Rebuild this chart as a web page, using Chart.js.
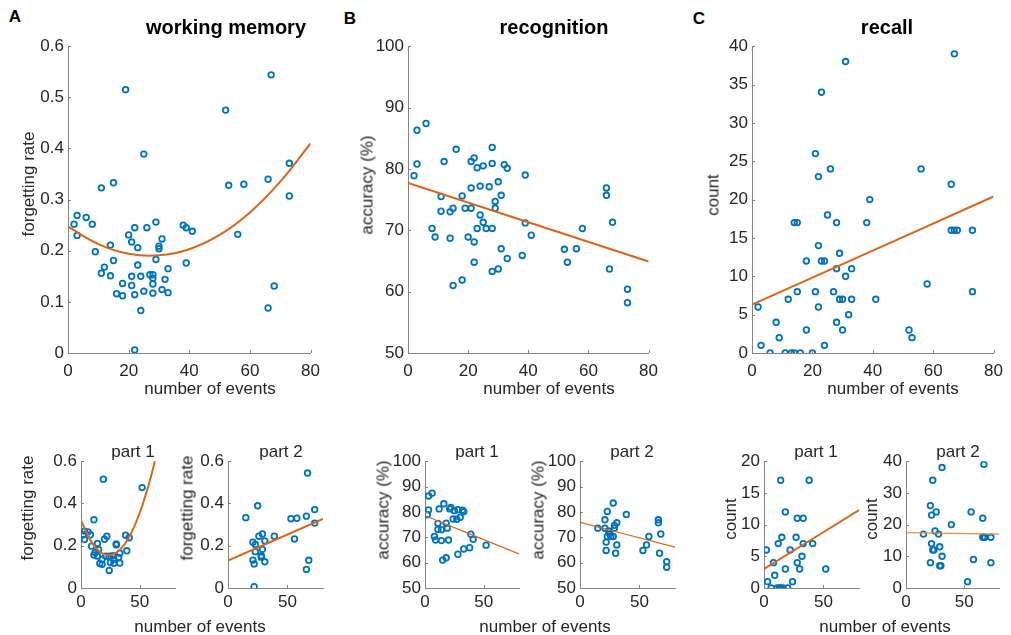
<!DOCTYPE html>
<html><head><meta charset="utf-8">
<script src="https://cdn.jsdelivr.net/npm/chart.js@4.4.1/dist/chart.umd.min.js"></script>
<style>
html,body{margin:0;padding:0;background:#fff;overflow:hidden;}
body{width:1011px;height:635px;position:relative;font-family:"Liberation Sans",Arial,Helvetica,sans-serif;color:#262626;}
.t{position:absolute;white-space:nowrap;transform:translate(-50%,-50%);line-height:1;}
.r{transform:translate(-50%,-50%) rotate(-90deg);}
canvas{position:absolute;display:block;}
</style></head><body>
<script>
// ---------- data ----------
// working memory
const wmEvents = [2,3,3,6,8,9,11,11,12,14,14,15,15,16,18,18,19,20,21,21,21,22,22,22,23,23,24,24,25,25,26,27,28,28,28,28,29,29,30,30,31,31,32,33,33,38,39,39,41,52,53,56,58,66,66,67,68,73,73];
const wmRate = [0.252,0.269,0.230,0.265,0.252,0.198,0.323,0.156,0.168,0.211,0.151,0.333,0.181,0.116,0.136,0.112,0.515,0.231,0.217,0.150,0.132,0.245,0.114,0.006,0.206,0.172,0.150,0.083,0.389,0.121,0.245,0.153,0.153,0.146,0.135,0.117,0.256,0.183,0.209,0.204,0.223,0.124,0.144,0.165,0.118,0.250,0.245,0.176,0.238,0.475,0.328,0.232,0.330,0.340,0.088,0.544,0.131,0.371,0.307];
const wmPart = [1,1,1,1,1,1,1,1,1,1,1,2,1,1,1,1,1,1,2,1,2,1,2,2,2,2,1,1,2,1,2,1,2,2,1,1,2,2,1,1,2,2,1,1,1,1,2,1,1,1,2,2,2,2,2,2,2,2,2];
// recognition
const accEvents = [2,3,3,6,8,9,11,11,12,14,14,15,15,16,18,18,19,20,21,21,21,22,22,22,23,23,24,24,25,25,26,27,28,28,28,28,29,29,30,30,31,31,32,33,33,38,39,39,41,52,53,56,58,66,66,67,68,73,73];
const accValue = [78.9,86.3,80.8,87.4,70.3,68.9,75.5,73.1,81.2,73.0,68.7,73.6,61.0,83.2,75.6,61.9,73.6,68.9,81.2,76.9,73.6,81.8,68.1,64.8,80.2,70.3,77.2,72.5,80.5,71.3,70.3,77.1,83.5,80.9,70.3,63.3,74.7,73.6,77.9,63.7,75.7,67.0,80.7,80.1,65.4,65.9,79.0,71.2,69.2,66.9,64.8,67.0,70.3,76.9,75.7,63.7,71.3,60.4,58.2];
const accPart = [1,1,1,1,1,1,1,1,1,1,1,2,1,1,1,1,1,1,1,2,2,1,2,2,2,2,1,2,1,2,2,1,2,1,2,1,2,2,1,2,2,2,1,1,1,1,2,1,1,1,2,2,2,2,2,2,2,2,2];
// recall
const countEvents = [2,3,6,8,9,11,12,13,14,14,15,15,16,18,18,20,21,21,22,22,22,23,23,24,24,25,26,27,28,28,28,29,29,30,30,31,31,32,33,33,38,39,41,52,53,56,58,66,66,67,67,68,73,73];
const countValue = [6,1,0,4,2,0,7,0,0,17,17,8,0,12,3,0,26,8,23,14,6,34,12,12,1,18,24,8,17,11,4,13,7,7,3,38,10,5,11,7,17,20,7,3,2,24,9,22,16,39,16,16,16,8];
const countPart = [1,1,1,1,1,1,1,1,1,1,2,1,1,1,1,1,2,2,2,2,1,2,2,2,1,2,2,1,2,1,1,2,2,2,1,2,2,1,1,1,1,2,1,1,2,2,2,2,2,2,2,2,2,2];

// fitted curves
const wmFitX = [0,10,20,30,40,50,60,70,80];
const wmFitY = [0.247,0.213,0.194,0.191,0.203,0.231,0.275,0.335,0.410];
const accFitX = [0,80];
const accFitY = [77.7,64.9];
const countFitX = [0,80];
const countFitY = [6.3,20.4];
const wmP1FitX = [0,10,20,30,40,50,60,70];
const wmP1FitY = [0.318,0.209,0.159,0.167,0.232,0.356,0.537,0.776];
const wmP2FitX = [0,80];
const wmP2FitY = [0.130,0.327];
const accP1FitX = [0,80];
const accP1FitY = [78.5,63.4];
const accP2FitX = [0,80];
const accP2FitY = [75.9,66.1];
const countP1FitX = [0,80];
const countP1FitY = [3.0,12.3];
const countP2FitX = [0,80];
const countP2FitY = [17.5,17.0];

// tick values
const xTicksMain = [0,20,40,60,80];
const xTicksPart = [0,50];
const wmTicks = [0,0.1,0.2,0.3,0.4,0.5,0.6];
const accTicks = [50,60,70,80,90,100];
const countTicks = [0,5,10,15,20,25,30,35,40];
const wmPartTicks = [0,0.2,0.4,0.6];
const accPartTicks = [50,60,70,80,90,100];
const countP1Ticks = [0,5,10,15,20];
const countP2Ticks = [0,10,20,30,40];

// ---------- drawing ----------
const FONT = '"Liberation Sans", Arial, Helvetica, sans-serif';
const BLUE = '#0072BD', ORANGE = '#D8661E', AXIS = '#858585', TXT = '#262626';
const AX = 50, PT = 14, PR = 12, PB = 30;

function pairs(xs, ys, parts, which) {
  const out = [];
  for (let i = 0; i < xs.length; i++) {
    if (which === undefined || parts[i] === which) out.push({x: xs[i], y: ys[i]});
  }
  return out;
}

const inwardTicks = {
  id: 'inwardTicks',
  afterDraw(chart) {
    const ctx = chart.ctx, xs = chart.scales.x, ys = chart.scales.y, a = chart.chartArea;
    ctx.save();
    ctx.strokeStyle = AXIS; ctx.lineWidth = 1;
    ctx.beginPath();
    xs.ticks.forEach(t => { const p = Math.round(xs.getPixelForValue(t.value)) + 0.5; ctx.moveTo(p, a.bottom); ctx.lineTo(p, a.bottom - 3); });
    ys.ticks.forEach(t => { const p = Math.round(ys.getPixelForValue(t.value)) + 0.5; ctx.moveTo(a.left, p); ctx.lineTo(a.left + 3, p); });
    ctx.stroke();
    ctx.restore();
  }
};

function makeChart(plot, pts, fit, xr, yr, xt, yt, fitWidth, fitColor, xPad) {
  const [l, t, r, b] = plot;
  const w = AX + (r - l) + PR, h = PT + (b - t) + PB;
  const c = document.createElement('canvas');
  c.width = w; c.height = h;
  c.style.left = (l - AX) + 'px'; c.style.top = (t - PT) + 'px';
  c.style.width = w + 'px'; c.style.height = h + 'px';
  document.body.appendChild(c);
  const tickFont = {family: FONT, size: 17};
  new Chart(c, {
    type: 'scatter',
    data: {datasets: [
      {type: 'line', data: fit, borderColor: fitColor, borderWidth: fitWidth, pointRadius: 0, tension: 0.4, fill: false},
      {type: 'scatter', data: pts, borderColor: BLUE, backgroundColor: 'rgba(0,0,0,0)', pointRadius: 2.8, pointHoverRadius: 2.8, pointBorderWidth: 1.8}
    ]},
    options: {
      responsive: false, animation: false, devicePixelRatio: 1, events: [],
      layout: {padding: {top: PT, right: PR, left: 0, bottom: 0}},
      plugins: {legend: {display: false}, tooltip: {enabled: false}, title: {display: false}},
      scales: {
        x: {type: 'linear', min: xr[0], max: xr[1],
            afterBuildTicks: s => { s.ticks = xt.map(v => ({value: v})); },
            afterFit: s => { s.height = PB; },
            grid: {display: false, drawTicks: false},
            border: {display: true, color: AXIS, width: 1},
            ticks: {color: TXT, font: tickFont, padding: xPad, maxRotation: 0, autoSkip: false, callback: v => String(v)}},
        y: {type: 'linear', min: yr[0], max: yr[1],
            afterBuildTicks: s => { s.ticks = yt.map(v => ({value: v})); },
            afterFit: s => { s.width = AX; },
            grid: {display: false, drawTicks: false},
            border: {display: true, color: AXIS, width: 1},
            ticks: {color: TXT, font: tickFont, padding: 4, autoSkip: false, callback: v => String(v)}}
      }
    },
    plugins: [inwardTicks]
  });
}

// top row
makeChart([68,46,316,353], pairs(wmEvents, wmRate), pairs(wmFitX, wmFitY), [0,80], [0,0.6], xTicksMain, wmTicks, 2, ORANGE, 8);
makeChart([408,46,654,353], pairs(accEvents, accValue), pairs(accFitX, accFitY), [0,80], [50,100], xTicksMain, accTicks, 2, ORANGE, 8);
makeChart([752,46,999,353], pairs(countEvents, countValue), pairs(countFitX, countFitY), [0,80], [0,40], xTicksMain, countTicks, 2, ORANGE, 8);
// bottom row
makeChart([81,461,175,588], pairs(wmEvents, wmRate, wmPart, 1), pairs(wmP1FitX, wmP1FitY), [0,80], [0,0.6], xTicksPart, wmPartTicks, 2, ORANGE, 4);
makeChart([228,461,323,588], pairs(wmEvents, wmRate, wmPart, 2), pairs(wmP2FitX, wmP2FitY), [0,80], [0,0.6], xTicksPart, wmPartTicks, 2, ORANGE, 4);
makeChart([425,461,519,588], pairs(accEvents, accValue, accPart, 1), pairs(accP1FitX, accP1FitY), [0,80], [50,100], xTicksPart, accPartTicks, 1.2, ORANGE, 4);
makeChart([580,461,675,588], pairs(accEvents, accValue, accPart, 2), pairs(accP2FitX, accP2FitY), [0,80], [50,100], xTicksPart, accPartTicks, 1.2, ORANGE, 4);
makeChart([764,461,859,588], pairs(countEvents, countValue, countPart, 1), pairs(countP1FitX, countP1FitY), [0,80], [0,20], xTicksPart, countP1Ticks, 2, ORANGE, 4);
makeChart([906,461,999,588], pairs(countEvents, countValue, countPart, 2), pairs(countP2FitX, countP2FitY), [0,80], [0,40], xTicksPart, countP2Ticks, 1.2, '#E58A4E', 4);

// ---------- text ----------
function txt(s, x, y, size, opts) {
  opts = opts || {};
  const d = document.createElement('div');
  d.className = 't' + (opts.rot ? ' r' : '');
  d.textContent = s;
  d.style.left = x + 'px'; d.style.top = y + 'px';
  d.style.fontSize = size + 'px';
  if (opts.bold) d.style.fontWeight = 'bold';
  d.style.color = opts.color || TXT;
  d.style.zIndex = 5;
  document.body.appendChild(d);
}
txt('A', 15, 16, 17, {bold: true, color: '#000'});
txt('B', 350, 18, 17, {bold: true, color: '#000'});
txt('C', 699, 18, 17, {bold: true, color: '#000'});
txt('working memory', 226, 27, 20, {bold: true, color: '#000'});
txt('recognition', 554, 27, 20, {bold: true, color: '#000'});
txt('recall', 887, 27, 20, {bold: true, color: '#000'});
txt('forgetting rate', 28, 184, 17, {rot: true});
txt('accuracy (%)', 367, 185, 17, {rot: true});
txt('count', 713, 195, 17, {rot: true});
txt('number of events', 210, 388, 17);
txt('number of events', 549, 388, 17);
txt('number of events', 893, 388, 17);
txt('part 1', 133, 451, 17);
txt('part 2', 281, 451, 17);
txt('part 1', 477, 451, 17);
txt('part 2', 632, 451, 17);
txt('part 1', 816, 451, 17);
txt('part 2', 958, 451, 17);
txt('forgetting rate', 27, 508, 17, {rot: true});
txt('forgetting rate', 187, 508, 17, {rot: true});
txt('accuracy (%)', 383, 510, 17, {rot: true});
txt('accuracy (%)', 538, 510, 17, {rot: true});
txt('count', 730, 519, 17, {rot: true});
txt('count', 871, 519, 17, {rot: true});
txt('number of events', 200, 626, 17);
txt('number of events', 545, 626, 17);
txt('number of events', 885, 626, 17);
</script>
</body></html>
